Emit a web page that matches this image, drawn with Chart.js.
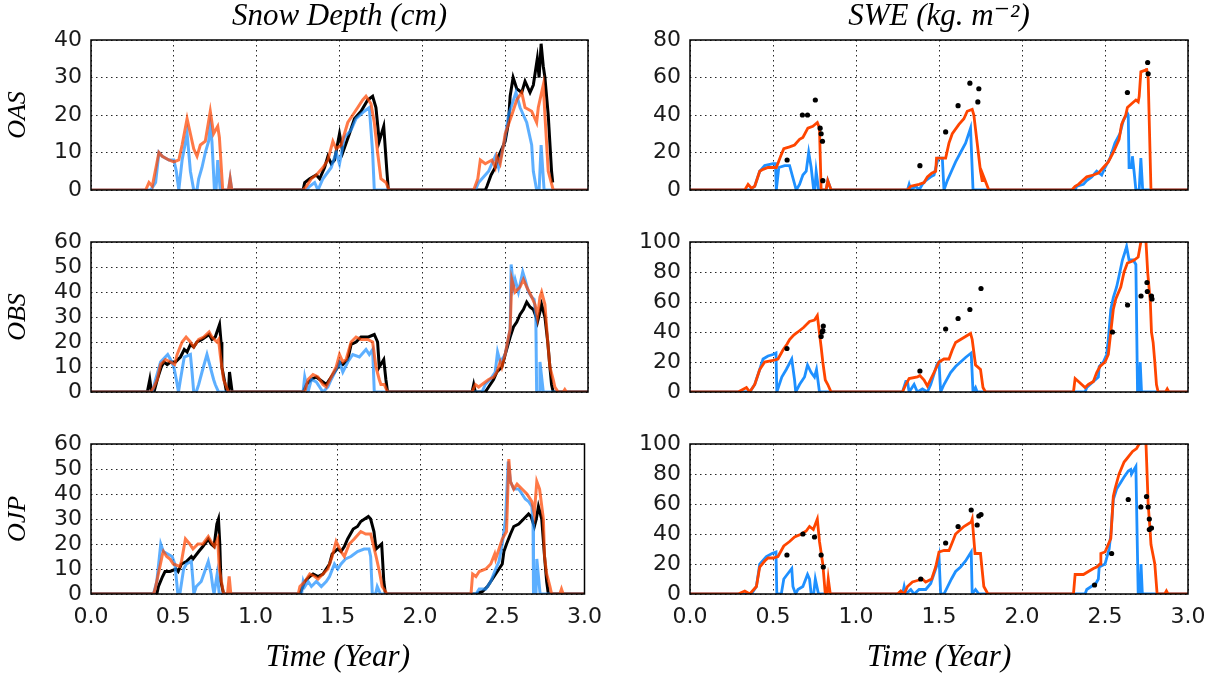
<!DOCTYPE html>
<html>
<head>
<meta charset="utf-8">
<title>Snow depth and SWE</title>
<script src="https://cdn.jsdelivr.net/npm/chart.js@4.4.1/dist/chart.umd.min.js"></script>
<style>
  html, body { margin: 0; padding: 0; background: #fff; }
  #wrap { position: relative; width: 1217px; height: 679px; overflow: hidden; }
  canvas { position: absolute; }
</style>
</head>
<body>
<div id="wrap">
  <canvas id="c11" width="612" height="215" style="left:0px;top:0px"></canvas>
  <canvas id="c12" width="617" height="215" style="left:600px;top:0px"></canvas>
  <canvas id="c21" width="612" height="217" style="left:0px;top:200px"></canvas>
  <canvas id="c22" width="617" height="217" style="left:600px;top:200px"></canvas>
  <canvas id="c31" width="612" height="277" style="left:0px;top:402px"></canvas>
  <canvas id="c32" width="617" height="277" style="left:600px;top:402px"></canvas>
</div>
<script>
// Tick values / labels
const xTickValues = [0, 0.5, 1, 1.5, 2, 2.5, 3];
const xTickLabels = ['0.0', '0.5', '1.0', '1.5', '2.0', '2.5', '3.0'];
const depthTicksOAS = [0, 10, 20, 30, 40];
const depthTicks = [0, 10, 20, 30, 40, 50, 60];
const sweTicksOAS = [0, 20, 40, 60, 80];
const sweTicks = [0, 20, 40, 60, 80, 100];

// Snow depth (cm) - [time in years, value]
const oasDepthOrange = [[0,0],[0.33,0],[0.35,2],[0.37,1],[0.41,10],[0.43,9],[0.47,8],[0.5,7.5],[0.53,8],[0.55,12],[0.58,19],[0.6,15],[0.62,11],[0.64,9],[0.66,12],[0.69,13],[0.72,21],[0.74,15],[0.765,17],[0.775,14],[0.795,0],[0.83,0],[0.84,3],[0.85,0],
  [1.28,0],[1.3,1],[1.33,3],[1.36,4],[1.4,6],[1.43,8],[1.46,13],[1.48,11],[1.51,12],[1.55,18],[1.58,20],[1.61,22],[1.64,24],[1.66,25],[1.69,23],[1.71,18],[1.73,10],[1.75,3],[1.78,2],[1.8,0],
  [2.31,0],[2.335,3],[2.35,8],[2.38,7],[2.42,8],[2.44,6],[2.45,9],[2.47,7],[2.49,12],[2.5,15],[2.54,20],[2.57,24],[2.6,26],[2.62,22],[2.66,21],[2.69,18],[2.7,22],[2.73,28],[2.74,20],[2.76,5],[2.79,0],[3,0]];
const oasDepthBlue = [[0,0],[0.36,0],[0.39,2],[0.41,10],[0.43,9],[0.47,8],[0.5,8],[0.515,5],[0.53,0],[0.55,8],[0.58,15],[0.6,5],[0.62,0],[0.64,0],[0.65,3],[0.67,6],[0.69,10],[0.71,13],[0.72,17],[0.73,13],[0.745,0],[0.755,0],[0.765,8],[0.78,0],[0.83,0],[0.84,3],[0.85,0],
  [1.3,0],[1.32,1],[1.35,2],[1.37,0],[1.4,3],[1.45,6],[1.48,10],[1.5,7],[1.53,14],[1.57,16],[1.6,19],[1.65,21],[1.68,22],[1.7,10],[1.71,0],
  [2.32,0],[2.34,2],[2.36,3],[2.4,5],[2.44,9],[2.46,6],[2.48,10],[2.5,14],[2.52,20],[2.565,26],[2.59,22],[2.61,20],[2.63,18],[2.66,12],[2.67,5],[2.69,0],[2.705,0],[2.717,12],[2.735,0],[3,0]];
const oasDepthObs = [[0.86,0],[1.28,0],[1.29,2],[1.32,3],[1.36,4],[1.38,3],[1.41,6],[1.43,9],[1.45,7],[1.47,8],[1.5,15],[1.52,10],[1.56,15],[1.59,19],[1.63,21],[1.67,24],[1.7,25],[1.72,22],[1.74,13],[1.767,17],[1.786,5],[1.795,0],
  [2.38,0],[2.39,1],[2.415,4],[2.44,6],[2.46,9],[2.5,13],[2.52,18],[2.53,25],[2.548,30],[2.57,27],[2.6,26],[2.62,29],[2.65,26],[2.67,28],[2.694,35],[2.705,30],[2.717,39],[2.73,33],[2.74,30],[2.76,20],[2.78,5],[2.787,2]];

const obsDepthOrange = [[0,0],[0.36,0],[0.38,2],[0.4,5],[0.42,11],[0.45,13],[0.48,12],[0.505,11],[0.52,15],[0.55,20],[0.574,22],[0.6,20],[0.62,18],[0.65,21],[0.68,22],[0.713,24],[0.73,22],[0.76,20],[0.77,21],[0.78,15],[0.8,5],[0.83,0],
  [1.29,0],[1.31,5],[1.34,7],[1.37,6],[1.4,3],[1.42,2],[1.45,6],[1.48,10],[1.5,15],[1.52,12],[1.54,13],[1.57,20],[1.6,22],[1.63,21],[1.67,21],[1.7,20],[1.72,10],[1.74,5],[1.75,3],[1.77,3],[1.79,0],
  [2.3,0],[2.32,3],[2.34,2],[2.36,3],[2.4,5],[2.43,6],[2.45,8],[2.47,12],[2.48,10],[2.5,15],[2.52,22],[2.53,25],[2.54,45],[2.56,40],[2.59,42],[2.61,45],[2.63,42],[2.66,38],[2.68,35],[2.695,30],[2.71,38],[2.72,40],[2.74,35],[2.757,20],[2.77,10],[2.79,5],[2.8,2],[2.82,0],[2.85,0],[2.86,1],[2.87,0],[3,0]];
const obsDepthBlue = [[0,0],[0.37,0],[0.39,5],[0.42,12],[0.463,15],[0.48,13],[0.5,10],[0.515,5],[0.528,0],[0.54,5],[0.563,14],[0.6,15],[0.61,8],[0.62,0],[0.635,0],[0.65,3],[0.67,8],[0.7,15],[0.72,10],[0.74,5],[0.75,3],[0.77,0],
  [1.28,0],[1.29,6],[1.3,3],[1.31,0],[1.33,5],[1.36,4],[1.38,2],[1.4,0],[1.43,2],[1.45,5],[1.48,9],[1.5,12],[1.52,8],[1.55,12],[1.58,15],[1.62,14],[1.66,17],[1.68,15],[1.7,17],[1.71,0],
  [2.36,0],[2.38,3],[2.41,5],[2.44,8],[2.454,16],[2.47,12],[2.5,15],[2.53,25],[2.536,51],[2.55,42],[2.56,45],[2.58,40],[2.606,48],[2.62,45],[2.64,40],[2.66,38],[2.675,37],[2.685,30],[2.69,0],[2.705,0],[2.71,12],[2.73,0],[3,0]];
const obsDepthObs = [[0,0],[0.34,0],[0.355,5],[0.365,0],[0.38,0],[0.4,5],[0.424,10],[0.44,12],[0.46,11],[0.48,12],[0.51,12],[0.54,14],[0.563,17],[0.58,16],[0.6,19],[0.62,18],[0.64,20],[0.67,21],[0.713,23],[0.73,21],[0.75,22],[0.776,27],[0.785,20],[0.79,10],[0.818,0],[0.83,0],[0.836,8],[0.852,0],
  [1.28,0],[1.3,3],[1.33,5],[1.36,6],[1.38,5],[1.4,4],[1.42,3],[1.45,6],[1.49,10],[1.5,12],[1.52,11],[1.55,13],[1.57,19],[1.6,20],[1.63,22],[1.675,22],[1.71,23],[1.73,20],[1.74,10],[1.767,13],[1.78,5],[1.79,0],
  [2.3,0],[2.31,3],[2.32,0],[2.38,0],[2.4,2],[2.43,5],[2.45,8],[2.48,10],[2.5,15],[2.53,22],[2.55,26],[2.57,28],[2.59,31],[2.61,33],[2.63,36],[2.65,34],[2.67,33],[2.687,30],[2.695,28],[2.71,32],[2.72,35],[2.74,30],[2.757,20],[2.77,10],[2.78,3],[2.79,0],[3,0]];

const ojpDepthOrange = [[0,0],[0.38,0],[0.39,2],[0.435,16],[0.44,17],[0.46,15],[0.48,14],[0.5,12],[0.54,11],[0.55,13],[0.574,22],[0.6,20],[0.62,18],[0.65,20],[0.68,20],[0.713,23],[0.73,21],[0.75,19],[0.77,22],[0.78,10],[0.806,0],[0.83,0],[0.84,7],[0.85,0],
  [1.26,0],[1.27,3],[1.3,5],[1.33,8],[1.36,7],[1.38,6],[1.41,8],[1.44,10],[1.466,15],[1.49,21],[1.52,17],[1.54,15],[1.57,20],[1.6,22],[1.64,25],[1.67,24],[1.7,24],[1.733,15],[1.75,10],[1.756,8],[1.77,3],[1.8,0],
  [2.31,0],[2.32,8],[2.34,7],[2.36,9],[2.4,10],[2.43,12],[2.454,16],[2.46,14],[2.48,18],[2.5,22],[2.526,25],[2.54,54],[2.55,45],[2.57,42],[2.59,44],[2.62,42],[2.65,40],[2.68,37],[2.695,32],[2.71,45],[2.727,42],[2.75,30],[2.757,15],[2.77,8],[2.79,3],[2.8,0],[2.85,0],[2.86,2],[2.87,0],[3,0]];
const ojpDepthBlue = [[0,0],[0.38,0],[0.4,5],[0.424,20],[0.44,17],[0.493,15],[0.51,12],[0.528,0],[0.54,0],[0.563,10],[0.58,12],[0.61,13],[0.62,5],[0.625,0],[0.64,3],[0.67,5],[0.713,13],[0.73,8],[0.74,3],[0.748,0],[0.767,8],[0.78,0],
  [1.28,0],[1.29,5],[1.3,3],[1.32,5],[1.34,3],[1.37,5],[1.4,3],[1.43,5],[1.45,7],[1.48,12],[1.5,10],[1.52,12],[1.547,14],[1.58,15],[1.62,17],[1.66,18],[1.69,18],[1.7,15],[1.71,0],[1.73,0],[1.74,3],[1.76,0],
  [2.34,0],[2.36,2],[2.4,2],[2.43,5],[2.46,10],[2.48,13],[2.5,20],[2.52,30],[2.536,53],[2.55,45],[2.57,42],[2.6,42],[2.64,38],[2.66,37],[2.68,35],[2.687,28],[2.69,0],[2.705,0],[2.71,14],[2.73,0],[3,0]];
const ojpDepthObs = [[0,0],[0.4,0],[0.41,3],[0.435,7],[0.45,9],[0.48,9],[0.517,10],[0.53,9],[0.55,12],[0.58,13],[0.61,15],[0.62,14],[0.655,17],[0.68,19],[0.713,22],[0.73,20],[0.748,19],[0.765,28],[0.775,30],[0.783,20],[0.79,5],[0.806,0],
  [1.27,0],[1.3,5],[1.33,7],[1.35,8],[1.38,7],[1.41,8],[1.43,10],[1.45,12],[1.466,16],[1.5,18],[1.52,17],[1.54,19],[1.56,22],[1.594,26],[1.62,27],[1.64,29],[1.686,31],[1.7,30],[1.72,25],[1.733,18],[1.767,20],[1.78,5],[1.79,0],
  [2.34,0],[2.38,1],[2.41,3],[2.44,6],[2.46,8],[2.48,10],[2.5,12],[2.51,17],[2.526,20],[2.55,24],[2.57,27],[2.6,28],[2.63,30],[2.66,32],[2.675,31],[2.695,27],[2.707,30],[2.72,35],[2.74,30],[2.757,15],[2.77,5],[2.78,0],[3,0]];

// SWE (kg m-2)
const oasSweOrange = [[0,0],[0.33,0],[0.35,3],[0.37,1],[0.39,2],[0.42,10],[0.44,11],[0.47,12],[0.52,12],[0.546,18],[0.565,22],[0.6,23],[0.63,24],[0.66,27],[0.68,28],[0.71,33],[0.74,34],[0.767,36],[0.78,33],[0.79,0],[0.82,0],[0.83,5],[0.85,0],
  [1.31,0],[1.33,2],[1.38,3],[1.41,4],[1.43,7],[1.456,9],[1.48,10],[1.485,17],[1.54,17],[1.56,25],[1.58,30],[1.62,35],[1.65,38],[1.67,42],[1.7,43],[1.71,40],[1.73,25],[1.75,10],[1.76,5],[1.765,8],[1.8,0],
  [2.3,0],[2.32,2],[2.34,3],[2.39,7],[2.43,8],[2.46,9],[2.49,12],[2.52,15],[2.55,20],[2.585,27],[2.6,35],[2.625,40],[2.635,44],[2.66,46],[2.686,48],[2.7,47],[2.706,50],[2.716,63],[2.747,64],[2.75,65],[2.76,60],[2.777,0],[3,0]];
const oasSweBlue = [[0,0],[0.36,0],[0.39,2],[0.42,10],[0.45,13],[0.5,14],[0.515,14],[0.52,0],[0.535,12],[0.57,13],[0.6,13],[0.64,0],[0.66,3],[0.68,8],[0.7,10],[0.715,20],[0.73,12],[0.745,0],[0.752,0],[0.76,10],[0.775,0],[0.82,0],[0.83,5],[0.85,0],
  [1.31,0],[1.32,3],[1.33,0],[1.36,2],[1.38,0],[1.4,3],[1.42,5],[1.45,7],[1.47,8],[1.495,17],[1.52,17],[1.53,0],[1.55,5],[1.575,10],[1.6,15],[1.63,20],[1.66,25],[1.69,33],[1.705,0],
  [2.32,0],[2.33,2],[2.37,3],[2.39,5],[2.42,7],[2.45,10],[2.48,8],[2.5,12],[2.53,17],[2.56,25],[2.59,30],[2.61,37],[2.635,41],[2.64,40],[2.645,12],[2.66,12],[2.665,18],[2.675,10],[2.686,0],[2.706,0],[2.716,17],[2.727,0],[3,0]];
const oasSweObs = [[0.585,16],[0.677,40],[0.708,40],[0.755,48],[0.784,33],[0.79,30],[0.798,26],[0.8,5],[1.385,13],[1.54,31],[1.615,45],[1.686,57],[1.734,47],[1.74,54],[2.635,52],[2.757,68],[2.76,62]];

const obsSweOrange = [[0,0],[0.29,0],[0.34,3],[0.36,0],[0.39,5],[0.42,15],[0.45,20],[0.5,21],[0.53,22],[0.56,28],[0.585,32],[0.6,35],[0.625,38],[0.65,40],[0.684,43],[0.72,47],[0.75,48],[0.767,51],[0.79,30],[0.8,20],[0.815,8],[0.83,5],[0.85,0],
  [1.28,0],[1.3,5],[1.32,9],[1.37,10],[1.385,11],[1.41,8],[1.43,4],[1.47,13],[1.5,20],[1.53,22],[1.56,22],[1.58,28],[1.6,33],[1.63,35],[1.66,37],[1.69,39],[1.7,35],[1.72,18],[1.75,15],[1.765,3],[1.78,0],
  [2.31,0],[2.32,9],[2.35,6],[2.38,3],[2.4,5],[2.43,7],[2.45,13],[2.47,17],[2.5,20],[2.52,25],[2.535,40],[2.55,55],[2.565,62],[2.595,70],[2.615,80],[2.635,86],[2.66,87],[2.676,88],[2.7,90],[2.716,100],[2.73,110],[2.747,100],[2.757,80],[2.773,60],[2.78,40],[2.79,33],[2.8,20],[2.81,5],[2.82,0],[2.865,0],[2.875,2],[2.885,0],[3,0]];
const obsSweBlue = [[0,0],[0.36,0],[0.39,5],[0.42,15],[0.44,22],[0.47,24],[0.5,25],[0.518,26],[0.523,0],[0.553,10],[0.58,15],[0.613,22],[0.63,8],[0.637,0],[0.66,5],[0.69,10],[0.708,18],[0.73,13],[0.75,10],[0.762,15],[0.78,0],
  [1.28,0],[1.3,7],[1.31,7],[1.32,0],[1.35,5],[1.37,0],[1.4,2],[1.43,0],[1.45,5],[1.487,18],[1.5,20],[1.51,0],[1.53,5],[1.57,13],[1.6,17],[1.63,20],[1.66,23],[1.694,26],[1.705,0],[1.72,3],[1.73,0],
  [2.38,0],[2.39,3],[2.41,5],[2.43,7],[2.46,10],[2.465,17],[2.49,20],[2.51,25],[2.52,35],[2.535,55],[2.55,63],[2.57,70],[2.58,75],[2.605,88],[2.625,95],[2.63,97],[2.645,88],[2.67,88],[2.686,85],[2.696,0],[2.705,0],[2.712,20],[2.72,0],[3,0]];
const obsSweObs = [[0.584,29],[0.79,37],[0.796,40],[0.8,41],[0.803,44],[1.385,14],[1.54,42],[1.615,49],[1.686,55],[1.753,69],[2.545,40],[2.636,58],[2.717,64],[2.753,73],[2.755,67],[2.78,64],[2.783,62]];

const ojpSweOrange = [[0,0],[0.29,0],[0.33,2],[0.36,0],[0.4,5],[0.42,18],[0.45,22],[0.47,24],[0.5,24],[0.53,25],[0.565,32],[0.6,35],[0.63,38],[0.672,40],[0.7,42],[0.72,45],[0.743,43],[0.767,50],[0.78,35],[0.8,20],[0.815,0],[0.825,0],[0.833,10],[0.845,0],
  [1.25,0],[1.27,2],[1.29,0],[1.31,5],[1.34,8],[1.37,9],[1.4,10],[1.42,8],[1.456,10],[1.48,18],[1.5,28],[1.53,29],[1.56,29],[1.575,33],[1.6,40],[1.62,42],[1.65,45],[1.694,48],[1.7,50],[1.717,27],[1.75,27],[1.77,5],[1.795,0],
  [2.31,0],[2.32,13],[2.37,13],[2.4,15],[2.43,17],[2.45,18],[2.47,20],[2.475,27],[2.5,28],[2.535,37],[2.55,65],[2.56,70],[2.585,80],[2.615,88],[2.63,90],[2.666,95],[2.69,97],[2.706,100],[2.73,108],[2.747,100],[2.76,60],[2.77,45],[2.777,33],[2.8,20],[2.814,0],[2.86,0],[2.87,2],[2.88,0],[3,0]];
const ojpSweBlue = [[0,0],[0.37,0],[0.4,5],[0.42,20],[0.46,25],[0.494,27],[0.518,28],[0.523,0],[0.55,0],[0.565,10],[0.613,17],[0.62,5],[0.636,0],[0.65,3],[0.68,5],[0.708,13],[0.72,10],[0.73,0],[0.745,0],[0.755,10],[0.774,0],
  [1.28,0],[1.29,5],[1.3,0],[1.33,3],[1.35,0],[1.38,3],[1.42,3],[1.45,7],[1.49,20],[1.5,25],[1.51,0],[1.53,0],[1.575,10],[1.6,15],[1.63,18],[1.66,22],[1.694,28],[1.7,0],[1.72,3],[1.74,0],
  [2.38,0],[2.39,3],[2.445,7],[2.46,10],[2.465,18],[2.5,20],[2.525,30],[2.535,40],[2.55,63],[2.57,70],[2.615,78],[2.64,82],[2.655,83],[2.66,80],[2.686,85],[2.7,0],[2.71,0],[2.717,20],[2.725,0],[3,0]];
const ojpSweObs = [[0.584,26],[0.68,40],[0.75,38],[0.79,26],[0.803,18],[1.39,10],[1.54,34],[1.615,45],[1.694,56],[1.73,46],[1.74,52],[1.753,53],[2.437,6],[2.54,27],[2.64,63],[2.716,58],[2.75,65],[2.76,58],[2.767,50],[2.767,43],[2.78,44]];

// Styles
const BLUE = '#1e90ff', RED = '#ff4500';
const BLUE_A = 'rgba(30,144,255,0.72)', RED_A = 'rgba(255,69,0,0.72)';
const serifFam = "'Liberation Serif', 'DejaVu Serif', serif";
const headFont = { family: serifFam, style: 'italic', weight: 'normal', size: 31, lineHeight: 1.1 };
const sideFont = { family: serifFam, style: 'italic', weight: 'normal', size: 26, lineHeight: 1.2 };
const tickFont = { family: "'DejaVu Sans', sans-serif", size: 22, lineHeight: 1.2 };

function pts(pairs) {
  return pairs.map(p => ({ x: p[0], y: p[1] }));
}

function line(pairs, color, order, width) {
  return { data: pts(pairs), borderColor: color, borderWidth: width, pointRadius: 0, tension: 0, fill: false, clip: 0, order: order };
}

function dots(pairs) {
  return { data: pts(pairs), showLine: false, pointRadius: 2.6, pointBackgroundColor: '#000', pointBorderWidth: 0, order: 0 };
}

// draws the full box round the plot, like matplotlib spines
const framePlugin = {
  id: 'frame',
  afterDatasetsDraw(chart) {
    const { ctx, chartArea: a } = chart;
    ctx.save();
    ctx.strokeStyle = '#000';
    ctx.lineWidth = 1.5;
    ctx.strokeRect(a.left, a.top, a.right - a.left, a.bottom - a.top);
    ctx.restore();
  }
};

function makePanel(id, cfg) {
  const yMax = cfg.yTicks[cfg.yTicks.length - 1];
  return new Chart(document.getElementById(id), {
    type: 'line',
    data: { datasets: cfg.datasets },
    options: {
      responsive: false,
      animation: false,
      events: [],
      layout: { padding: { top: cfg.padTop, right: cfg.padRight, left: 0, bottom: 0 } },
      plugins: {
        legend: { display: false },
        tooltip: { enabled: false },
        title: {
          display: !!cfg.title,
          text: cfg.title || '',
          font: headFont,
          color: '#000',
          fullSize: false,
          padding: { top: 0, bottom: 5.9 }
        }
      },
      scales: {
        x: {
          type: 'linear', min: 0, max: 3,
          afterBuildTicks: s => { s.ticks = xTickValues.map(v => ({ value: v })); },
          afterFit: s => { s.height = cfg.xH; },
          grid: { color: 'rgba(0,0,0,0.85)', lineWidth: 1, drawTicks: false },
          border: { display: false, dash: [1.5, 3.5] },
          ticks: {
            display: !!cfg.bottom, font: tickFont, color: '#1a1a1a', padding: 10,
            maxRotation: 0, autoSkip: false,
            callback: (v, i) => xTickLabels[i]
          },
          title: { display: !!cfg.bottom, text: 'Time (Year)', font: headFont, color: '#000', padding: { top: 0, bottom: 4 } }
        },
        y: {
          type: 'linear', min: 0, max: yMax,
          afterBuildTicks: s => { s.ticks = cfg.yTicks.map(v => ({ value: v })); },
          afterFit: s => { s.width = cfg.yW; },
          grid: { color: 'rgba(0,0,0,0.85)', lineWidth: 1, drawTicks: false },
          border: { display: false, dash: [1.5, 3.5] },
          ticks: { font: tickFont, color: '#1a1a1a', padding: 9, autoSkip: false, callback: v => String(v) },
          title: { display: !!cfg.yTitle, text: cfg.yTitle || '', font: sideFont, color: '#000', padding: { top: 3, bottom: 0 } }
        }
      }
    },
    plugins: [framePlugin]
  });
}

const leftBox = { yW: 91, padRight: 24 };
const rightBox = { yW: 90, padRight: 29 };

makePanel('c11', Object.assign({}, leftBox, {
  title: 'Snow Depth (cm)', yTitle: 'OAS', yTicks: depthTicksOAS, padTop: 0, xH: 25,
  datasets: [line(oasDepthOrange, RED_A, 1, 3), line(oasDepthBlue, BLUE_A, 2, 3), line(oasDepthObs, '#000', 3, 3)]
}));
makePanel('c12', Object.assign({}, rightBox, {
  title: 'SWE (kg. m\u207B\u00B2)', yTicks: sweTicksOAS, padTop: 0, xH: 25,
  datasets: [dots(oasSweObs), line(oasSweOrange, RED, 1, 2.8), line(oasSweBlue, BLUE, 2, 2.8)]
}));
makePanel('c21', Object.assign({}, leftBox, {
  yTitle: 'OBS', yTicks: depthTicks, padTop: 42, xH: 25,
  datasets: [line(obsDepthOrange, RED_A, 1, 3), line(obsDepthBlue, BLUE_A, 2, 3), line(obsDepthObs, '#000', 3, 3)]
}));
makePanel('c22', Object.assign({}, rightBox, {
  yTicks: sweTicks, padTop: 42, xH: 25,
  datasets: [dots(obsSweObs), line(obsSweOrange, RED, 1, 2.8), line(obsSweBlue, BLUE, 2, 2.8)]
}));
makePanel('c31', Object.assign({}, leftBox, {
  yTitle: 'OJP', yTicks: depthTicks, padTop: 42, xH: 85, bottom: true,
  datasets: [line(ojpDepthOrange, RED_A, 1, 3), line(ojpDepthBlue, BLUE_A, 2, 3), line(ojpDepthObs, '#000', 3, 3)]
}));
makePanel('c32', Object.assign({}, rightBox, {
  yTicks: sweTicks, padTop: 42, xH: 85, bottom: true,
  datasets: [dots(ojpSweObs), line(ojpSweOrange, RED, 1, 2.8), line(ojpSweBlue, BLUE, 2, 2.8)]
}));
</script>
</body>
</html>
